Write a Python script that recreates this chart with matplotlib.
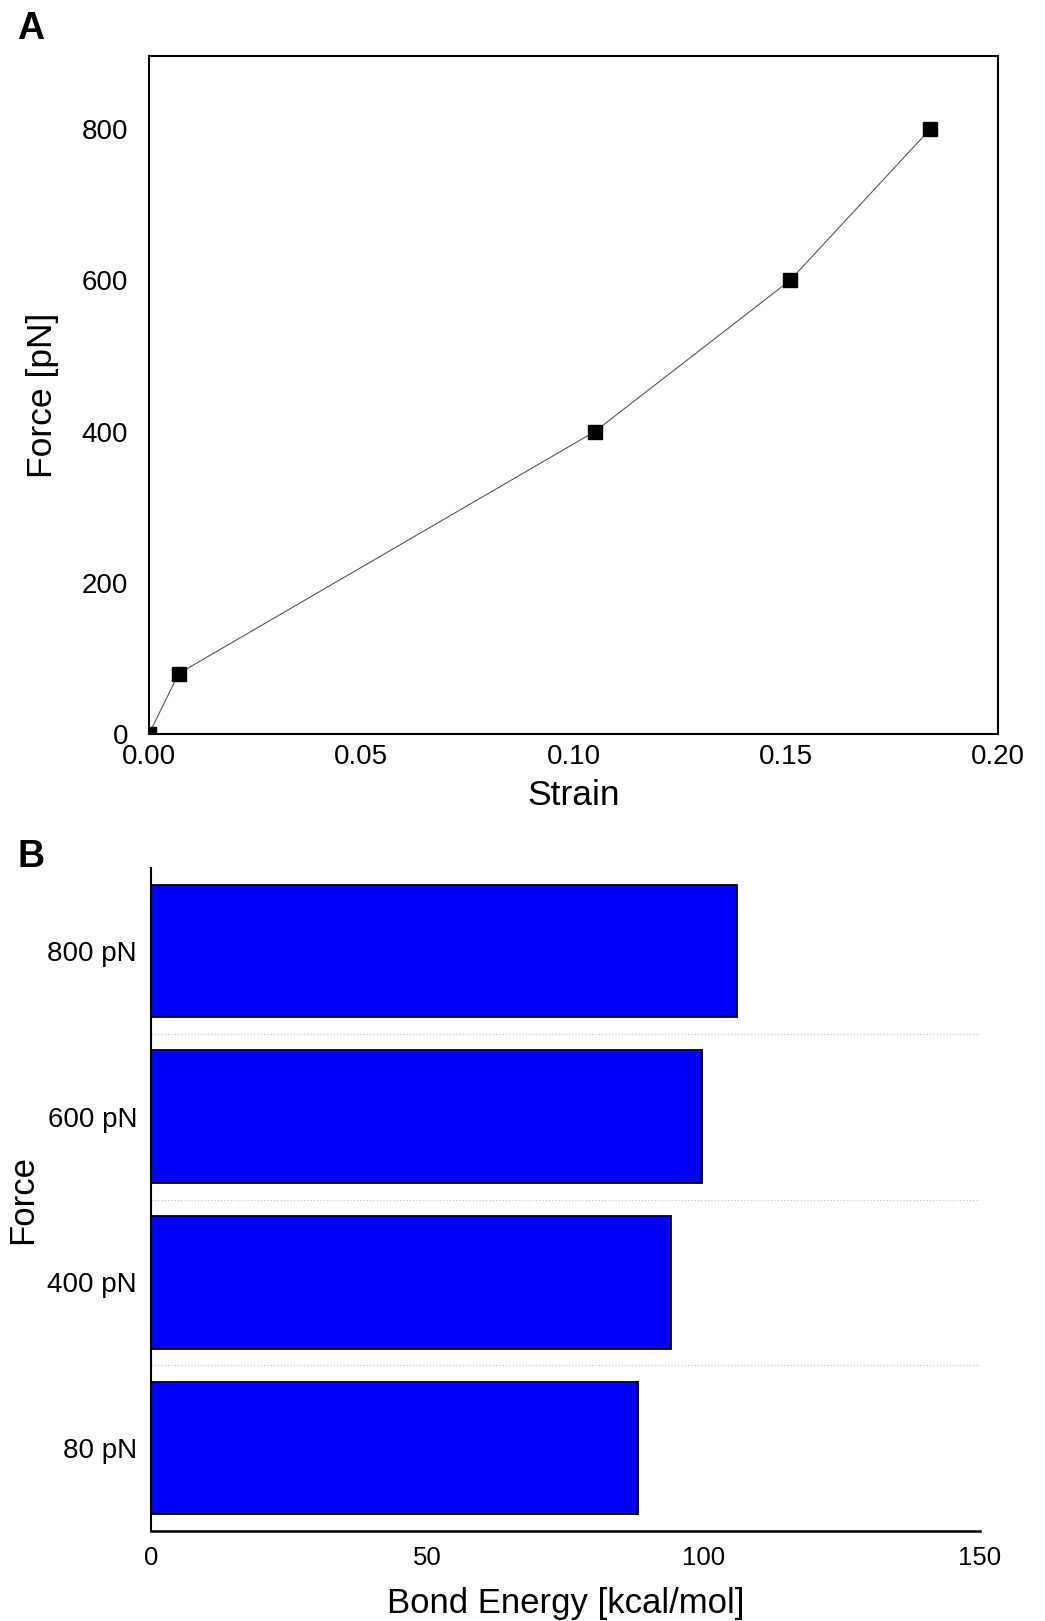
import matplotlib
matplotlib.use("Agg")
import matplotlib.pyplot as plt

plt.rcParams['font.family'] = ['Liberation Sans', 'DejaVu Sans']

# panel A: force vs strain
strain = [0.0, 0.007, 0.105, 0.151, 0.184]
force = [0, 80, 400, 600, 800]
strain_ticks = [0.00, 0.05, 0.10, 0.15, 0.20]
force_ticks = [0, 200, 400, 600, 800]

# panel B: bond energy per force level
force_levels = ['80 pN', '400 pN', '600 pN', '800 pN']
bond_energy = [88.2, 94.0, 99.7, 106.0]
energy_ticks = [0, 50, 100, 150]

fig = plt.figure(figsize=(10.45, 16.21), dpi=100)

# ---- A ----
axA = fig.add_axes([0.1426, 0.5472, 0.8124, 0.4183])
axA.plot(strain, force, color='#555555', lw=0.8, marker='s', ms=10.5,
         mfc='black', mec='black', zorder=3)
axA.set_xlim(0, 0.20)
axA.set_ylim(0, 897)
axA.set_xticks(strain_ticks)
axA.set_xticklabels(['%.2f' % t for t in strain_ticks])
axA.set_yticks(force_ticks)
axA.tick_params(axis='x', length=0, pad=7, labelsize=20)
axA.tick_params(axis='y', length=0, pad=15, labelsize=20)
for s in axA.spines.values():
    s.set_linewidth(1.5)
axA.set_xlabel('Strain', fontsize=25.5, labelpad=7)
axA.set_ylabel('Force [pN]', fontsize=25.5, labelpad=16)

# ---- B ----
axB = fig.add_axes([0.1445, 0.0555, 0.7933, 0.409])
pos = list(range(len(force_levels)))
axB.barh(pos, bond_energy, height=0.8, color='#0000ff', edgecolor='black',
         linewidth=1.3, zorder=3)
axB.set_xlim(0, 150)
axB.set_ylim(-0.5, len(force_levels) - 0.5)
axB.set_yticks(pos)
axB.set_yticklabels(force_levels)
axB.set_xticks(energy_ticks)
for yb in [p + 0.5 for p in pos[:-1]]:
    axB.axhline(yb, color='#c8c8c8', lw=0.9, ls=':', zorder=1)
axB.spines['top'].set_visible(False)
axB.spines['right'].set_visible(False)
axB.spines['left'].set_linewidth(1.5)
axB.spines['bottom'].set_linewidth(1.8)
axB.tick_params(axis='y', length=0, pad=10, labelsize=20)
axB.tick_params(axis='x', length=0, pad=11, labelsize=18.5)
axB.set_xlabel('Bond Energy [kcal/mol]', fontsize=25, labelpad=12)
axB.set_ylabel('Force', fontsize=25, labelpad=6)

fig.text(0.016, 0.9935, 'A', fontsize=27, fontweight='bold', va='top', ha='left')
fig.text(0.017, 0.4825, 'B', fontsize=27, fontweight='bold', va='top', ha='left')

fig.savefig('out.png', dpi=100)
